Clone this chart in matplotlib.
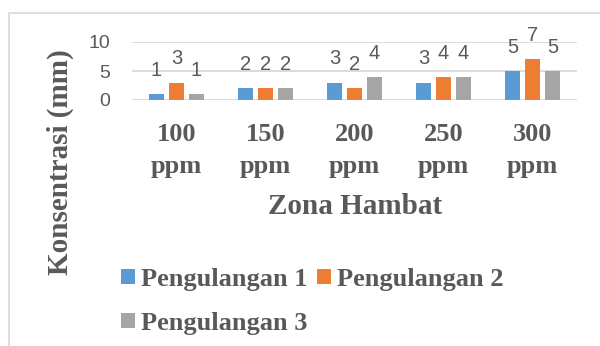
import matplotlib
matplotlib.use("Agg")
import matplotlib.pyplot as plt
from matplotlib.patches import Rectangle
import numpy as np

categories = ["100\nppm", "150\nppm", "200\nppm", "250\nppm", "300\nppm"]
series_names = ["Pengulangan 1", "Pengulangan 2", "Pengulangan 3"]
p1 = [1, 2, 3, 3, 5]
p2 = [3, 2, 2, 4, 7]
p3 = [1, 2, 4, 4, 5]
colors = ["#5B9BD5", "#ED7D31", "#A5A5A5"]
yticks = [0, 5, 10]

fig = plt.figure(figsize=(6.0, 3.46), dpi=100)
ax = fig.add_axes([132/600, 1-100/346, 445/600, 58/346])

serif = ["Liberation Serif", "DejaVu Serif"]
sans = ["Liberation Sans", "DejaVu Sans"]
txt = "#595959"

x = np.arange(len(categories))
w = 0.175
step = 0.225
handles = []
for i, (vals, c) in enumerate(zip([p1, p2, p3], colors)):
    b = ax.bar(x + (i-1)*step, vals, width=w, color=c, zorder=3, label=series_names[i])
    handles.append(b)
    for xi, v in zip(x + (i-1)*step, vals):
        ax.annotate(str(v), (xi, v), xytext=(0, 17), textcoords="offset points",
                    ha="center", va="center", fontsize=14.5, color=txt,
                    family=sans, annotation_clip=False)

ax.set_xlim(-0.5, len(categories)-0.5)
ax.set_ylim(0, 10)
ax.set_yticks(yticks)
ax.set_yticklabels([str(t) for t in yticks], fontsize=14, color=txt, family=sans)
ax.set_xticks(x)
ax.set_xticklabels(categories, fontsize=19, color=txt, family=serif,
                   fontweight="bold", linespacing=1.5)
ax.tick_params(axis="both", length=0)
ax.tick_params(axis="y", pad=16)
ax.tick_params(axis="x", pad=16.5)
ax.grid(axis="y", color="#D9D9D9", linewidth=1.3, zorder=0)
for s in ax.spines.values():
    s.set_visible(False)

fig.text(355.5/600, 1-214/346, "Zona Hambat", ha="center", va="baseline",
         fontsize=21, fontweight="bold", color=txt, family=serif)
fig.text(60/600, 1-162/346, "Konsentrasi (mm)", ha="center", va="center",
         rotation=90, fontsize=21, fontweight="bold", color=txt, family=serif)

leg = fig.legend([handles[0], handles[2], handles[1]],
                 [series_names[0], series_names[2], series_names[1]],
                 ncol=2, loc="upper left", bbox_to_anchor=(118/600, 1-265/346),
                 frameon=False, handlelength=0.53, handleheight=0.53,
                 handletextpad=0.23, columnspacing=0.38, labelspacing=0.8,
                 borderpad=0.1, borderaxespad=0,
                 prop={"family": serif, "weight": "bold", "size": 19})
for t in leg.get_texts():
    t.set_color(txt)

fig.patches.append(Rectangle((9/600, -0.1), 1.2, 1.1 - 13/346, transform=fig.transFigure,
                             fill=False, edgecolor="#D9D9D9", linewidth=1.2))

fig.savefig("out.png", dpi=100)
